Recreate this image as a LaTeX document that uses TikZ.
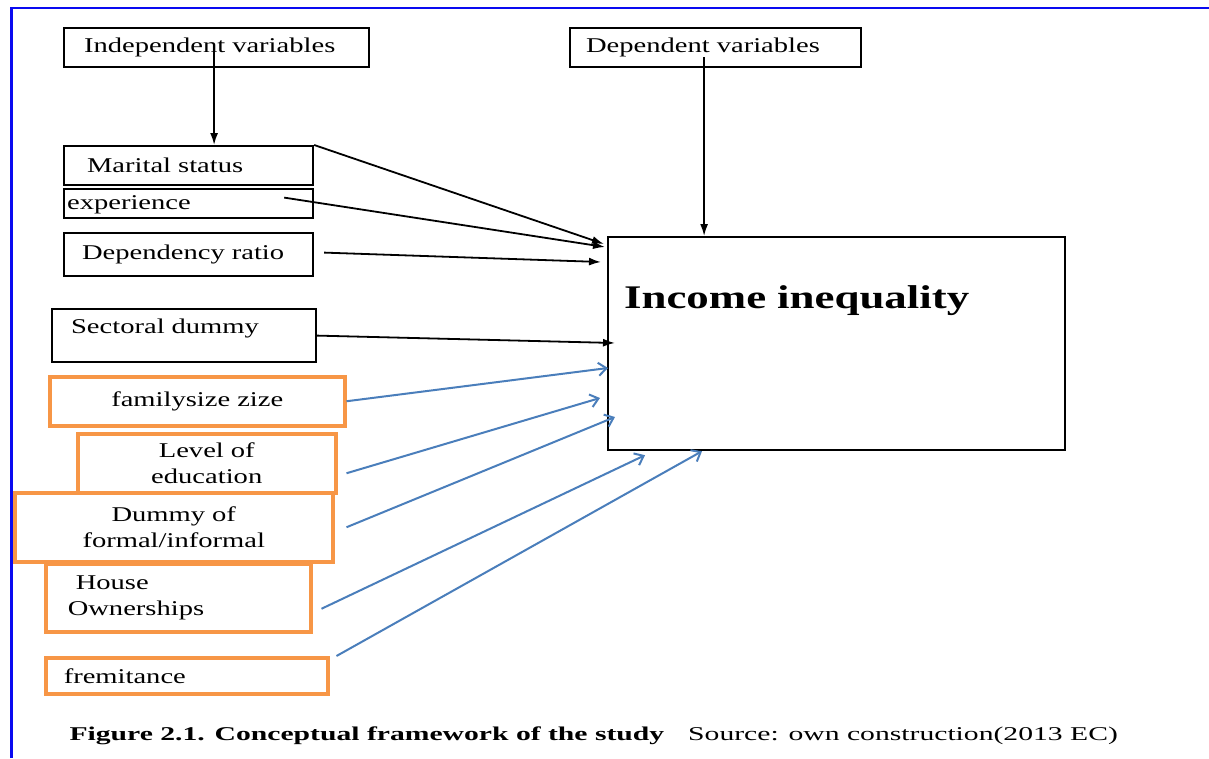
\documentclass[tikz,border=0pt]{standalone}
\usepackage{fontspec}
\setmainfont{Liberation Serif}[FakeStretch=1.36]
\newfontfamily\capfont{Liberation Serif}[FakeStretch=1.52]
\usepackage{tikz}
\usetikzlibrary{arrows.meta}
\definecolor{boxorange}{HTML}{F79646}
\definecolor{arrowblue}{HTML}{4A7EBB}
\definecolor{frameblue}{HTML}{0A0AF0}
\tikzset{>=latex}
\tikzset{varbox/.style={draw, line width=2.2pt, anchor=north west, align=left, inner ysep=2pt}}
\tikzset{orangebox/.style={draw=boxorange, line width=3.5pt, anchor=north west, align=center, inner ysep=2pt, inner xsep=0pt}}
\tikzset{blackarrow/.style={line width=1.8pt, -{Latex[length=12pt,width=8pt]}}}
\tikzset{bluearrow/.style={arrowblue, line width=2pt, -{Straight Barb[length=8pt,width=13pt]}}}

\begin{document}
\begin{tikzpicture}[x=1pt, y=-1pt, font=\fontsize{21}{26}\selectfont]
    \useasboundingbox (0,0) rectangle (1209,758);
    \draw[frameblue, line width=2.8pt](11.5,758)--(11.5,8)--(1209,8);

    % top row
    \node[varbox, minimum width=305, minimum height=39, inner xsep=20pt, text width=265pt](indep) at (63,27){Independent variables};
    \node[varbox, minimum width=291, minimum height=39, inner xsep=16pt, text width=259pt](dep) at (569,27){Dependent variables};

    % black boxes
    \node[varbox, minimum width=249, minimum height=39, inner xsep=23pt, text width=203pt](marital) at (63,145){Marital status};
    \node[varbox, minimum width=249, minimum height=29, inner xsep=3pt, text width=243pt, text height=12pt, text depth=0pt](exper) at (63,188){experience};
    \node[varbox, minimum width=249, minimum height=43, inner xsep=18pt, text width=213pt](ratio) at (63,232){Dependency ratio};
    \node[varbox, minimum width=264, minimum height=53, inner xsep=19pt, text width=226pt, text height=15pt, text depth=20pt](sect) at (51,308){Sectoral dummy};

    % orange boxes
    \node[orangebox, minimum width=295, minimum height=49, text width=295pt](fam) at (48,375){familysize zize};
    \node[orangebox, minimum width=258, minimum height=59, text width=258pt](edu) at (76,432){Level of\\education};
    \node[orangebox, minimum width=318, minimum height=69, text width=318pt](dummy) at (13,491){Dummy of\\formal/informal};
    \node[orangebox, minimum width=265, minimum height=68, inner xsep=22pt, text width=221pt, align=left](house) at (44,562){\hspace*{8pt}House\\Ownerships};
    \node[orangebox, minimum width=282, minimum height=36, inner xsep=18pt, text width=246pt, align=left](frem) at (44,656){fremitance};

    % outcome
    \node[varbox, minimum width=457, minimum height=213, inner xsep=16pt, text width=425pt, text height=23pt, text depth=94pt, font=\fontsize{33}{38}\selectfont\bfseries](income) at (607,236){Income inequality};

    \coordinate(indepfoot) at ([xshift=-2.5pt, yshift=16pt]indep.south);
    \coordinate(depfoot) at ([xshift=-11.5pt, yshift=11pt]dep.south);
    \draw[blackarrow](indepfoot)--(indepfoot |- marital.north);
    \draw[blackarrow](depfoot)--(depfoot |- income.north);

    \draw[blackarrow](marital.north east)--([xshift=-3pt, yshift=-8pt]income.north west);
    \draw[blackarrow]([xshift=-30pt, yshift=6pt]exper.east)--([xshift=-2pt, yshift=-11pt]income.north west);
    \draw[blackarrow]([xshift=10pt, yshift=2pt]ratio.east)--([xshift=-6pt, yshift=-26pt]income.north west);
    \draw[blackarrow](sect.east)--([xshift=8pt, yshift=-107pt]income.north west);

    \draw[bluearrow](fam.east)--([xshift=1pt, yshift=-132pt]income.north west);
    \draw[bluearrow]([xshift=9pt, yshift=-10pt]edu.east)--([xshift=-7pt, yshift=-162pt]income.north west);
    \draw[bluearrow]([xshift=12pt]dummy.east)--([xshift=8pt, yshift=-181pt]income.north west);
    \draw[bluearrow]([xshift=9pt, yshift=-11pt]house.east)--([xshift=38pt, yshift=-4pt]income.south west);
    \draw[bluearrow]([xshift=7pt]frem.north east)--([xshift=95pt]income.south west);

    \node[anchor=base west, font=\capfont\fontsize{19.5}{24}\selectfont](caption) at (66,740){\textbf{Figure 2.1. Conceptual framework of the study}\hspace{24pt}Source: own construction(2013 EC)};
\end{tikzpicture}
\end{document}
